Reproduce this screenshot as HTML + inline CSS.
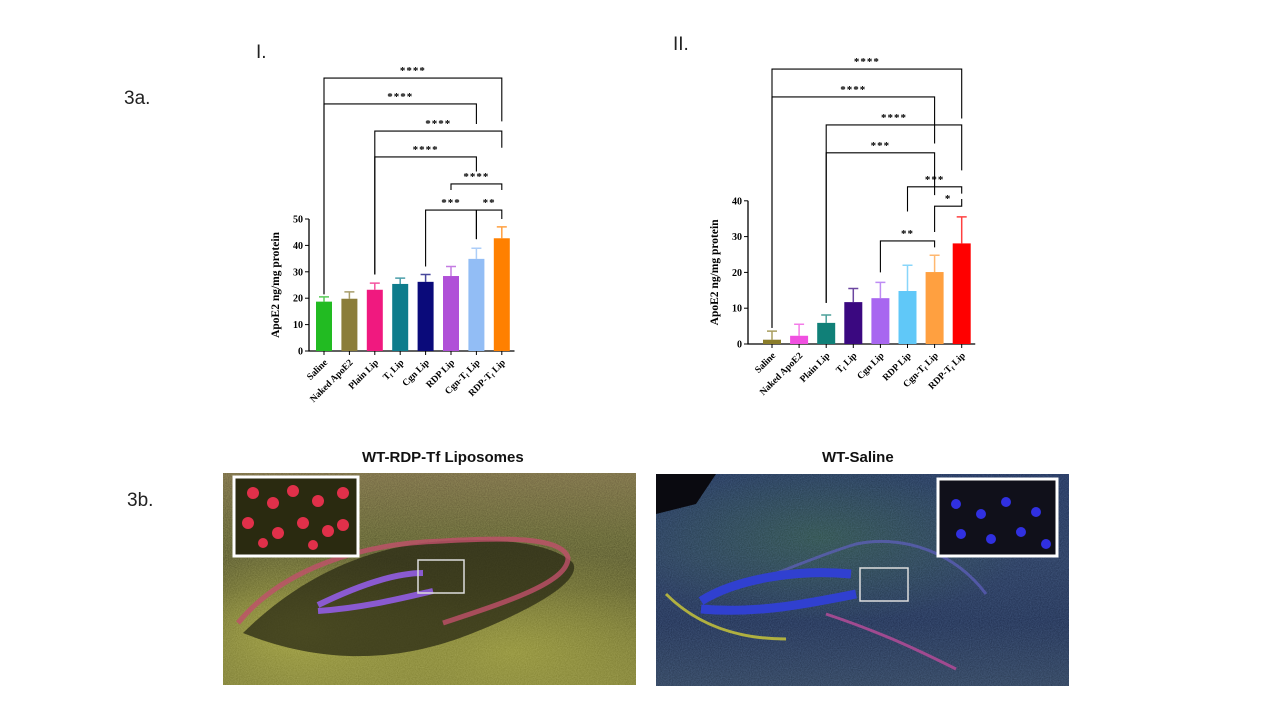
<!DOCTYPE html>
<html><head><meta charset="utf-8"><style>
body{margin:0;background:#fff;width:1280px;height:720px;overflow:hidden;position:relative;font-family:"Liberation Sans",sans-serif}
.lbl{position:absolute;font-size:19px;color:#222}
.micro{position:absolute;overflow:hidden}
.ttl{position:absolute;font-weight:bold;font-size:15px;color:#111}
</style></head><body>
<div class="lbl" style="left:124px;top:88px">3a.</div>
<div class="lbl" style="left:256px;top:42px">I.</div>
<div class="lbl" style="left:673px;top:34px">II.</div>
<div class="lbl" style="left:127px;top:490px">3b.</div>
<div class="ttl" style="left:362px;top:449px">WT-RDP-Tf Liposomes</div>
<div class="ttl" style="left:822px;top:449px">WT-Saline</div>

<div class="micro" style="left:223px;top:473px;width:413px;height:212px;background:radial-gradient(ellipse 60% 50% at 70% 85%,#8a8a34,transparent),radial-gradient(ellipse 40% 40% at 20% 75%,#9a9a3a,transparent),linear-gradient(180deg,#6e6040 0%,#56562c 30%,#4a4a24 55%,#70702e 100%)">
<svg width="413" height="212" style="position:absolute;left:0;top:0">
<filter id="n1"><feTurbulence type="fractalNoise" baseFrequency="0.9" numOctaves="2"/><feColorMatrix values="0 0 0 0 0.8  0 0 0 0 0.8  0 0 0 0 0.3  0 0 0 0.35 0"/></filter>
<rect width="413" height="212" filter="url(#n1)"/>
<path d="M20,160 C60,120 120,80 200,70 C270,62 330,70 350,90 C360,110 300,140 250,160 C200,180 120,200 20,160Z" fill="#2a2a14" opacity=".75"/>
<path d="M15,150 C60,95 140,70 220,68 C290,64 340,65 345,85 C345,110 280,130 220,150" fill="none" stroke="#c0506a" stroke-width="5" opacity=".8"/>
<path d="M95,132 C130,115 170,100 200,100 M95,138 C140,135 180,125 210,118" fill="none" stroke="#8a5ad0" stroke-width="6"/>
<rect x="195" y="87" width="46" height="33" fill="none" stroke="#ddd" stroke-width="1.5"/>
<rect x="11" y="4" width="124" height="79" fill="#2a2a10" stroke="#fff" stroke-width="3"/>
<g fill="#e0304a"><circle cx="30" cy="20" r="6"/><circle cx="50" cy="30" r="6"/><circle cx="70" cy="18" r="6"/><circle cx="95" cy="28" r="6"/><circle cx="120" cy="20" r="6"/><circle cx="25" cy="50" r="6"/><circle cx="55" cy="60" r="6"/><circle cx="80" cy="50" r="6"/><circle cx="105" cy="58" r="6"/><circle cx="40" cy="70" r="5"/><circle cx="90" cy="72" r="5"/><circle cx="120" cy="52" r="6"/></g>
</svg></div>

<div class="micro" style="left:656px;top:474px;width:413px;height:212px;background:radial-gradient(ellipse 50% 40% at 40% 30%,#2a4a40,transparent),linear-gradient(180deg,#1c2c52 0%,#223252 40%,#1c2a4a 70%,#2a3a50 100%)">
<svg width="413" height="212" style="position:absolute;left:0;top:0">
<filter id="n2"><feTurbulence type="fractalNoise" baseFrequency="0.9" numOctaves="2"/><feColorMatrix values="0 0 0 0 0.3  0 0 0 0 0.5  0 0 0 0 0.9  0 0 0 0.3 0"/></filter>
<rect width="413" height="212" filter="url(#n2)"/>
<path d="M0,0 L60,0 L40,30 L0,40Z" fill="#0a0a10"/>
<path d="M60,120 C100,110 150,85 200,70 C250,60 300,80 330,120" fill="none" stroke="#6060c0" stroke-width="3" opacity=".7"/>
<path d="M45,127 C80,105 140,95 195,100 M45,135 C100,140 150,130 200,120" fill="none" stroke="#3040d0" stroke-width="9"/>
<path d="M10,120 C40,150 80,165 130,165" fill="none" stroke="#b0b040" stroke-width="3"/>
<path d="M170,140 C230,160 270,180 300,195" fill="none" stroke="#a04a90" stroke-width="3"/>
<rect x="204" y="94" width="48" height="33" fill="none" stroke="#ddd" stroke-width="1.5"/>
<rect x="282" y="5" width="119" height="77" fill="#10101a" stroke="#fff" stroke-width="3"/>
<g fill="#3030e0"><circle cx="300" cy="30" r="5"/><circle cx="325" cy="40" r="5"/><circle cx="350" cy="28" r="5"/><circle cx="380" cy="38" r="5"/><circle cx="305" cy="60" r="5"/><circle cx="335" cy="65" r="5"/><circle cx="365" cy="58" r="5"/><circle cx="390" cy="70" r="5"/></g>
</svg></div>

<svg id="charts" width="1280" height="720" style="position:absolute;left:0;top:0" xmlns="http://www.w3.org/2000/svg"></svg>
<script>
const categories=["Saline","Naked ApoE2","Plain Lip","T|f| Lip","Cgn Lip","RDP Lip","Cgn-T|f| Lip","RDP-T|f| Lip"];
const catLabels=["Saline","Naked ApoE2","Plain Lip","Tf Lip","Cgn Lip","RDP Lip","Cgn-Tf Lip","RDP-Tf Lip"];
const valuesI=[18.7,19.8,23.2,25.4,26.2,28.4,34.9,42.7];
const errTopI=[20.5,22.4,25.7,27.6,29,32,38.9,47];
const colorsI=["#22bb22","#8b7d3a","#f0197f","#0e7c8c","#0a0a7a","#b050d8","#92bdf5","#ff8000"];
const ticksI=[0,10,20,30,40,50];
const brLeftI=[0,0,2,2,5,4,6], brRightI=[7,6,7,6,7,6,7];
const brLevelI=[103.4,93.6,83.3,73.5,63.3,53.4,53.4];
const brLabelI=["****","****","****","****","****","***","**"];
const brLEndI=[21.5,21.5,29,29,61,32,42.4], brREndI=[87,86,77,68,61,42.4,50];
const valuesII=[1.2,2.3,5.9,11.7,12.8,14.8,20.1,28.1];
const errTopII=[3.6,5.5,8.1,15.5,17.2,22,24.8,35.5];
const colorsII=["#8b7d2a","#f050e0","#108078","#3a0880","#a866f0","#60c8f8","#ffa040","#ff0000"];
const ticksII=[0,10,20,30,40];
const brLeftII=[0,0,2,2,5,6,4], brRightII=[7,6,7,6,7,7,6];
const brLevelII=[76.8,69,61.2,53.4,43.9,38.5,28.8];
const brLabelII=["****","****","****","***","***","*","**"];
const brLEndII=[4.5,4.5,11.5,11.5,37,31.3,20], brREndII=[63,56,48.5,41.6,42,40.5,27];

const NS="http://www.w3.org/2000/svg", svg=document.getElementById('charts');
function mk(t,a,p){const e=document.createElementNS(NS,t);for(const k in a)e.setAttribute(k,a[k]);(p||svg).appendChild(e);return e;}
function draw(cfg,vals,errs,cols,ticks,bl,br,blev,blab,ble,bre,pfx){
  const g=mk('g',{});
  
  
  const y=v=>cfg.y0-v*cfg.k, x=i=>cfg.x0+i*cfg.dx;
  const ymax=ticks[ticks.length-1];
  const ax=mk('path',{d:`M${cfg.ax},${y(ymax)}V${cfg.y0}H${x(7)+cfg.dx/2}`,stroke:'#000','stroke-width':1.3,fill:'none'},g);
  
  
  ticks.forEach(t=>{
    mk('line',{x1:cfg.ax-4,x2:cfg.ax,y1:y(t),y2:y(t),stroke:'#000'},g);
    const tx=mk('text',{x:cfg.ax-6,y:y(t)+3.5,'text-anchor':'end','font-size':10,'font-weight':'bold','font-family':'Liberation Serif,serif'},g);
    tx.textContent=t;
    
    
  });
  const yt=mk('text',{transform:`translate(${cfg.ax-30},${(y(0)+y(ymax))/2}) rotate(-90)`,'text-anchor':'middle','font-size':11.5,'font-weight':'bold','font-family':'Liberation Serif,serif'},g);
  yt.textContent='ApoE2 ng/mg protein';
  
  
  vals.forEach((v,i)=>{
    const b=mk('rect',{x:x(i)-cfg.bw/2,y:y(v),width:cfg.bw,height:y(0)-y(v),fill:cols[i]},g);
    
    
    const e=mk('path',{d:`M${x(i)},${y(v)}V${y(errs[i])}M${x(i)-5},${y(errs[i])}H${x(i)+5}`,stroke:cols[i],'stroke-width':1.5,fill:'none',opacity:.75},g);
    
    
    mk('line',{x1:x(i),x2:x(i),y1:y(0),y2:y(0)+4,stroke:'#000'},g);
    const lt=mk('text',{transform:`translate(${x(i)+4},${y(0)+12}) rotate(-45)`,'text-anchor':'end','font-size':9.5,'font-weight':'bold','font-family':'Liberation Serif,serif'},g);
    categories[i].split('|').forEach((part,j)=>{
      const ts=mk('tspan',j===1?{'font-size':6,dy:2}:(j===2?{dy:-2}:{}),lt);
      ts.textContent=part;
    });
    
    
  });
  bl.forEach((l,i)=>{
    const r=br[i], yy=y(blev[i]);
    const p=mk('path',{d:`M${x(l)},${y(ble[i])}V${yy}H${x(r)}V${y(bre[i])}`,stroke:'#000','stroke-width':1.1,fill:'none'},g);
    
    
    const t=mk('text',{x:(x(l)+x(r))/2,y:yy-4,'text-anchor':'middle','font-size':11,'font-weight':'bold','letter-spacing':'1','font-family':'Liberation Serif,serif'},g);
    t.textContent=blab[i];
    
    
  });
}
draw({y0:351,k:2.64,x0:324,dx:25.4,bw:16,ax:309},valuesI,errTopI,colorsI,ticksI,brLeftI,brRightI,brLevelI,brLabelI,brLEndI,brREndI,'chart-i');
draw({y0:344,k:3.58,x0:772,dx:27.1,bw:18,ax:748},valuesII,errTopII,colorsII,ticksII,brLeftII,brRightII,brLevelII,brLabelII,brLEndII,brREndII,'chart-ii');
</script>
</body></html>
